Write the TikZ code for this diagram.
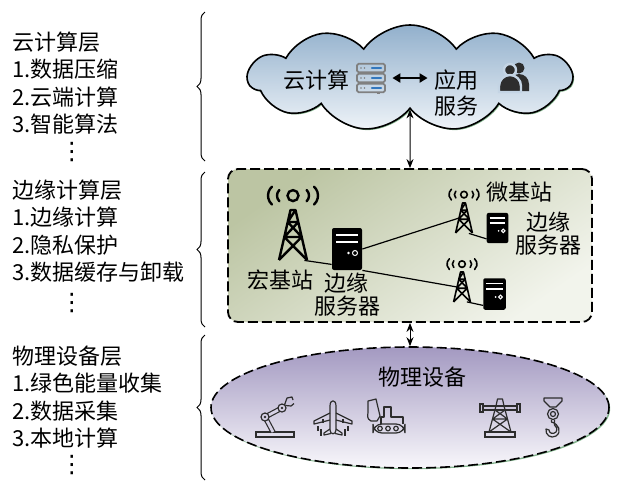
\documentclass[tikz,border=0pt]{standalone}
\usepackage{fontspec}
\newfontfamily\cjk{Noto Sans CJK SC}
\newfontfamily\symb{DejaVu Sans}
\usepackage{tikz}
\usetikzlibrary{arrows.meta,
                matrix,
                shapes.symbols,
                shapes.geometric,
                shadows,
                decorations.pathreplacing}
\definecolor{cloudtop}{RGB}{146,176,204}
\definecolor{cloudbot}{RGB}{238,243,248}
\definecolor{cloudmid}{RGB}{196,212,228}
\definecolor{edgetop}{RGB}{188,197,163}
\definecolor{edgebot}{RGB}{242,244,236}
\definecolor{devtop}{RGB}{163,153,193}
\definecolor{devbot}{RGB}{248,247,251}
\definecolor{devmid}{RGB}{214,209,229}
\definecolor{rackgray}{RGB}{128,128,128}
\definecolor{rackblue}{RGB}{52,120,190}
\definecolor{icongray}{RGB}{45,45,45}
\definecolor{shadowgreen}{RGB}{80,150,95}
\tikzset{
	rack/.pic={
			\foreach \k in {-10,0,10}{
					\draw[rackgray, line width=0.9pt, rounded corners=0.8pt] (-14,\k-4.3) rectangle (14,\k+4.3);
					\fill[rackgray] (-10,\k) circle (0.9) (-6.5,\k) circle (0.9);
					\draw[rackblue, line width=1.1pt, line cap=round] (1,\k) -- (10,\k);
				}
			\fill[rackgray] (6,14.5) rectangle (9,16);
		},
	users/.pic={
			\fill[icongray] (6,-10) circle (5.5);
			\fill[icongray] (-4,13) -- (-4,6) arc (180:360:10) -- (16,13) -- cycle;
			\filldraw[fill=icongray, draw=cloudmid, line width=1.2pt] (-3,-8) circle (6);
			\filldraw[fill=icongray, draw=cloudmid, line width=1.2pt] (-14,14) -- (-14,8) arc (180:360:11) -- (8,14) -- cycle;
		},
	signal/.pic={
			\draw (0,0) circle (5.5);
			\foreach \s in {1,-1}
			\draw[xscale=\s, line cap=round] ([shift={(-45:8)}]8,0) arc (-45:45:8)
			([shift={(-48:12)}]13,0) arc (-48:48:12);
		},
	tower/.pic={
			\draw[line join=round] (-14,25) -- (-2.5,-25) -- (2.5,-25) -- (14,25)
			(-5.3,-13) -- (5.3,-13) (-8.7,2) -- (8.7,2)
			(2.5,-25) -- (-5.3,-13)
			(-5.3,-13) -- (8.7,2) (5.3,-13) -- (-8.7,2)
			(-8.7,2) -- (14,25) (8.7,2) -- (-14,25);
		},
	server/.pic={
			\fill[black, rounded corners=1pt] (-15,-21) rectangle (15,21);
			\draw[white, line width=0.8pt] (-11,-14) -- (11,-14) (-11,-7) -- (11,-7);
			\fill[white] (1.5,4) circle (1.3);
			\draw[white, line width=0.5pt] (8,4) circle (2.5);
		},
	robot/.pic={
			\draw (-19,14) rectangle (19,19);
			\draw[double=devmid, double distance=1.4pt, line join=round] (-2,14) -- (-10,-1) -- (7,-10);
			\draw[fill=devmid] (-10,-1) circle (4) (7,-10) circle (4);
			\fill (-10,-1) circle (1.3) (7,-10) circle (1.3);
			\draw[line join=round] (9.5,-13) -- (12,-20) -- (17,-21) -- (18,-18)
			(10.5,-12.5) -- (16,-12) -- (19,-14.5);
		},
	plane/.pic={
			\draw[line join=round] (-3,12) -- (-3,-12) .. controls (-3,-19) and (3,-19) .. (3,-12)
			-- (3,12) .. controls (3,17) and (-3,17) .. (-3,12);
			\draw[line join=round] (-3,-5) -- (-19,3) -- (-19,6) -- (-3,2)
			(3,-5) -- (19,3) -- (19,6) -- (3,2);
			\draw[line join=round] (-3,11) -- (-9,15) -- (-9,17) -- (-2,15.5)
			(3,11) -- (9,15) -- (9,17) -- (2,15.5);
			\draw (-10,1) -- (-10,5) (10,1) -- (10,5)
			(-15,8) -- (-15,13) (-12,11) -- (-12,18) (15,8) -- (15,13) (12,11) -- (12,18);
		},
	digger/.pic={
			\draw[rounded corners=4.5pt] (-12,6) rectangle (20,15);
			\foreach \x in {-5,3,11} \draw (\x,10.5) circle (2.3);
			\draw[line join=round] (-4,6) -- (-4,-1) -- (-1,-1) -- (-1,-11) -- (6,-11) -- (6,-1) -- (18,-1) -- (18,6);
			\draw[line join=round] (-17,-17) -- (-9,-19) -- (-5,-2) -- (-8,3) -- (-14,3)
			.. controls (-18,1) and (-18,-3) .. (-17,-6) -- cycle;
		},
	pylon/.pic={
			\draw (-15,14) rectangle (15,19);
			\draw[line join=round] (-11,14) -- (-4,-12) -- (-2.5,-19) -- (2.5,-19) -- (4,-12) -- (11,14);
			\draw (-17,-12) -- (17,-12) (-17,-8) -- (17,-8);
			\draw (-20,-14) rectangle (-17,-6) (17,-14) rectangle (20,-6);
			\draw (-5,-8) -- (7.5,1) (5,-8) -- (-7.5,1) (-7.5,1) -- (7.5,1)
			(-7.5,1) -- (11,14) (7.5,1) -- (-11,14);
		},
	hook/.pic={
			\draw[line join=round] (-9,-20) -- (9,-20) -- (9,-17) -- (3,-11) -- (-3,-11) -- (-9,-17) -- cycle;
			\draw (0,-4) circle (5.5) (0,-4) circle (2.5);
			\draw[line join=round] (-1.5,1.5) -- (-1.5,4) .. controls (6,6) and (9,14) .. (3,18)
			.. controls (-2,21) and (-8,17) .. (-7,11) -- (-4,12)
			.. controls (-4,15) and (0,17) .. (3,14) .. controls (5,11) and (3,8) .. (1.5,7) -- (1.5,1.5);
		}
}
\begin{document}
\begin{tikzpicture}[x=0.5pt, y=-0.5pt,
      txt/.style = {font=\cjk\fontsize{11}{11.5}\selectfont, inner sep=0pt, align=center},
        L/.style = {matrix of nodes, anchor=north west, inner sep=0pt,
                    nodes = {font=\cjk\fontsize{11}{13}\selectfont, inner sep=0pt, anchor=west,
                             text height=8.5pt, text depth=2.5pt},
                    row sep=2.65pt},
     dots/.style = {inner sep=0pt, font=\symb\fontsize{12}{12}\selectfont},
    curly/.style = {decorate, decoration={brace, amplitude=4pt}, line width=0.5pt},
   updown/.style = {{Stealth[length=4.5pt,width=3.5pt]}-{Stealth[length=4.5pt,width=3.5pt]}, line width=0.5pt},
      dbl/.style = {{Triangle[length=4pt,width=4.5pt]}-{Triangle[length=4pt,width=4.5pt]},
                    line width=1.1pt, shorten <=3pt, shorten >=3pt},
     wire/.style = {line width=0.6pt},
  iconbox/.style 2 args = {inner sep=0pt, minimum width=#1, minimum height=#2},
     icon/.style = {color=icongray, line width=0.6pt},
      sky/.style = {cloud, cloud puffs=11, cloud puff arc=110, aspect=3, draw, line width=0.8pt,
                    top color=cloudtop, bottom color=cloudbot,
                    minimum width=162pt, minimum height=53pt,
                    drop shadow={shadow xshift=0.6pt, shadow yshift=-0.6pt, fill=shadowgreen, opacity=0.7}},
  edgebox/.style = {draw, dash pattern=on 5pt off 2pt, line width=0.9pt, rounded corners=5pt,
                    top color=edgetop, bottom color=edgebot, shading angle=35,
                    minimum width=182pt, minimum height=76.5pt},
   devbox/.style = {ellipse, draw, dash pattern=on 5pt off 2pt, line width=0.8pt,
                    top color=devtop, bottom color=devbot,
                    minimum width=199pt, minimum height=60.5pt,
                    drop shadow={shadow xshift=0.6pt, shadow yshift=-0.6pt, fill=shadowgreen, opacity=0.7}}
                    ]
\useasboundingbox (0,0) rectangle (617,484);

% layer descriptions
\matrix (cloudlist) [L] at (12,33)
{
云计算层\\
1.数据压缩\\
2.云端计算\\
3.智能算法\\
};
\node[dots] (clouddots) at (72,152) {⋮};
\matrix (edgelist) [L] at (12,181)
{
边缘计算层\\
1.边缘计算\\
2.隐私保护\\
3.数据缓存与卸载\\
};
\node[dots] (edgedots) at (72,303) {⋮};
\matrix (devlist) [L] at (12,347)
{
物理设备层\\
1.绿色能量收集\\
2.数据采集\\
3.本地计算\\
};
\node[dots] (devdots) at (72,465) {⋮};

\draw[curly] (205,161) -- (205,12);
\draw[curly] (205,327) -- (205,172);
\draw[curly] (205,480) -- (205,335);

% cloud layer
\node[sky] (cloud) at (410,78) {};
\node[txt] (cloudlbl) at (316,80) {云计算};
\node[iconbox={15pt}{15pt}] (rack) at (371,78) {};
\pic at (rack) {rack};
\node[txt] (app) at (456,93) {应用\\[1.5pt]服务};
\node[iconbox={15pt}{14pt}] (users) at (513,78) {};
\pic at (users) {users};
\draw[dbl] (rack.east) -- (rack.east -| app.west);

% edge layer
\node[edgebox] (edgebox) at (410,245.5) {};
\node[iconbox={11pt}{25pt}] (macro) at (293,235) {};
\node[iconbox={15pt}{21pt}] (mec) at (347,249) {};
\node[iconbox={4.5pt}{15pt}] (bs1) at (464,218) {};
\node[iconbox={10.5pt}{15.5pt}] (srv1) at (497.5,228) {};
\node[iconbox={4.5pt}{14.5pt}] (bs2) at (462,287) {};
\node[iconbox={11pt}{16pt}] (srv2) at (494.5,294) {};

\draw[wire] (macro.south east) -- (mec.-135);
\draw[wire] (mec.east) -- (bs1.west);
\draw[wire] (mec.south east) -- (bs2.west);
\draw[wire] (bs1.south east) -- (srv1.-135);
\draw[wire] (bs2.south east) -- (srv2.-135);

\pic[line width=1.2pt] at (macro) {tower};
\pic[line width=1.2pt] at ([yshift=7pt]macro.north) {signal};
\pic at (mec) {server};
\pic[scale=0.6, line width=0.8pt] at (bs1) {tower};
\pic[scale=0.6, line width=0.8pt] at ([yshift=4pt]bs1.north) {signal};
\pic[scale=0.72] at (srv1) {server};
\pic[scale=0.6, line width=0.8pt] at (bs2) {tower};
\pic[scale=0.6, line width=0.8pt] at ([yshift=4pt]bs2.north) {signal};
\pic[scale=0.75] at (srv2) {server};

\node[txt] (macrolbl) at (280.5,280) {宏基站};
\node[txt] (meclbl) at (347,295) {边缘\\服务器};
\node[txt] (bs1lbl) at (519.5,192) {微基站};
\node[txt] (srv1lbl) at (548,233.5) {边缘\\服务器};

% device layer
\node[devbox] (devices) at (410,407.5) {};
\node[txt] (devlbl) at (422.5,377) {物理设备};
\pic[icon] at (275,418) {robot};
\pic[icon] at (333,418) {plane};
\pic[icon] at (385,418) {digger};
\pic[icon] at (500,418) {pylon};
\pic[icon] at (553,418) {hook};

\draw[updown] (cloud.south) -- (edgebox.north);
\draw[updown] (edgebox.south) -- (devices.north);
\end{tikzpicture}
\end{document}
